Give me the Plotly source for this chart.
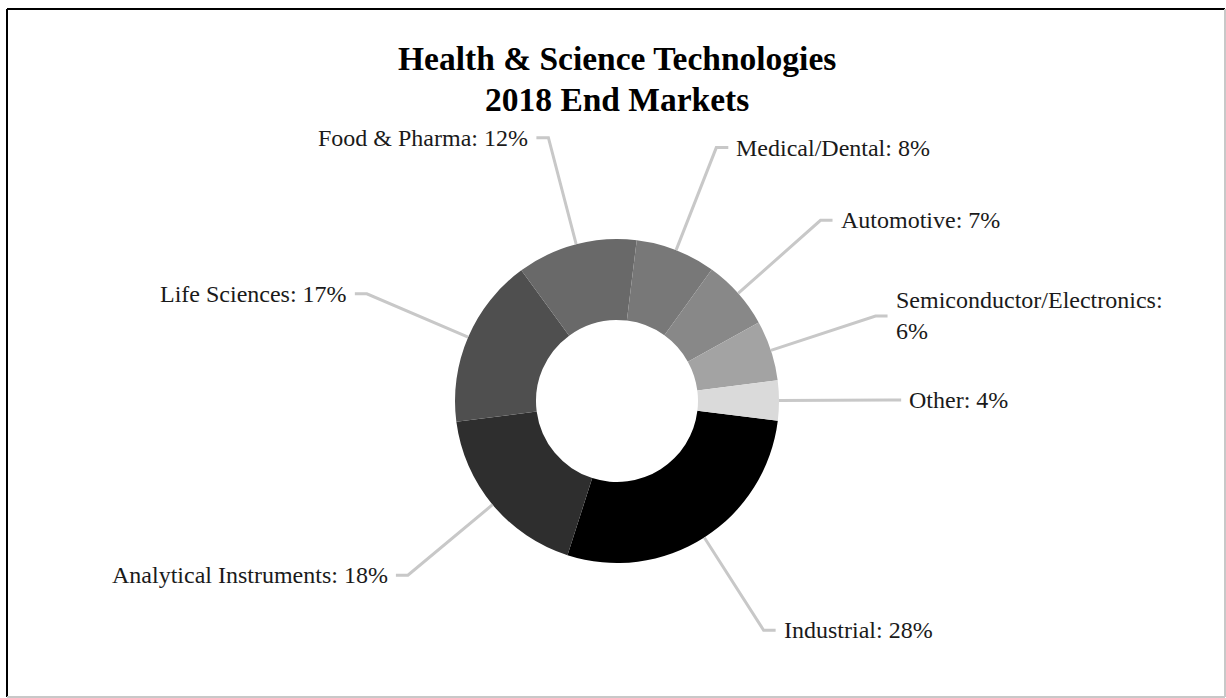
import math
import plotly.graph_objects as go

# ---- data ----
categories = ["Industrial", "Analytical Instruments", "Life Sciences", "Food & Pharma",
              "Medical/Dental", "Automotive", "Semiconductor/Electronics", "Other"]
shares = [28, 18, 17, 12, 8, 7, 6, 4]
title_lines = ["Health & Science Technologies", "2018 End Markets"]

# ---- styles ----
slice_colors = ["#000000", "#2e2e2e", "#4f4f4f", "#696969",
                "#787878", "#888888", "#a3a3a3", "#dadada"]
LINE_COLOR = "#c8c8c8"
TEXT_COLOR = "#1a1a1a"
FONT = "Liberation Serif, Times New Roman, serif"

W, H = 1226, 698
CX, CY, R = 617, 401, 162      # pie centre / radius in pixels
ROTATION = 97                  # degrees clockwise from 12 o'clock
ELBOW = 1.68                   # elbow radius as multiple of R
TAIL = 12                      # horizontal tail length px
GAP = 6                        # gap between tail and text px
TITLE_Y = [59, 99]             # title line centres px


def P(x, y):
    return x / W, 1 - y / H


fig = go.Figure(go.Pie(
    labels=categories, values=shares, sort=False, direction="clockwise",
    rotation=ROTATION, hole=0.5, textinfo="none", showlegend=False,
    marker=dict(colors=slice_colors, line=dict(width=0)),
    hoverinfo="label+percent",
    domain=dict(x=[(CX - R) / W, (CX + R) / W], y=[1 - (CY + R) / H, 1 - (CY - R) / H]),
))

shapes = []
annotations = []
total = sum(shares)
cum = 0
for cat, v in zip(categories, shares):
    mid = ROTATION + (cum + v / 2) / total * 360
    cum += v
    a = math.radians(mid)
    sx, sy = CX + R * math.sin(a), CY - R * math.cos(a)
    ex, ey = CX + ELBOW * R * math.sin(a), CY - ELBOW * R * math.cos(a)
    right = math.sin(a) >= 0
    tx = ex + (TAIL if right else -TAIL)
    p0, p1, p2 = P(sx, sy), P(ex, ey), P(tx, ey)
    shapes.append(dict(type="path", xref="paper", yref="paper",
                       path=f"M {p0[0]} {p0[1]} L {p1[0]} {p1[1]} L {p2[0]} {p2[1]}",
                       line=dict(color=LINE_COLOR, width=3)))
    sep = "<br>" if len(cat) > 22 else " "
    label = f"{cat}:{sep}{v}%"
    lx, ly = P(tx + (GAP if right else -GAP), ey)
    annotations.append(dict(x=lx, y=ly, xref="paper", yref="paper", text=label,
                            showarrow=False, xanchor="left" if right else "right",
                            yanchor="middle", align="left",
                            font=dict(family=FONT, size=24, color=TEXT_COLOR)))

for line, ty in zip(title_lines, TITLE_Y):
    ax, ay = P(CX, ty)
    annotations.append(dict(x=ax, y=ay, xref="paper", yref="paper",
                            text=f"<b>{line}</b>",
                            showarrow=False, xanchor="center", yanchor="middle",
                            font=dict(family=FONT, size=33.5, color="#000000")))

# outer frame
for (x0, y0, x1, y1, c) in [(7, 9, 7, 697, "#000000"), (7, 9, 1225, 9, "#000000"),
                            (1225, 9, 1225, 697, "#c8c8c8"), (7, 697, 1225, 697, "#c8c8c8")]:
    a0, b0 = P(x0, y0)
    a1, b1 = P(x1, y1)
    shapes.append(dict(type="line", xref="paper", yref="paper", x0=a0, y0=b0, x1=a1, y1=b1,
                       line=dict(color=c, width=2)))

fig.update_layout(width=W, height=H, margin=dict(l=0, r=0, t=0, b=0),
                  paper_bgcolor="white", plot_bgcolor="white",
                  shapes=shapes, annotations=annotations,
                  font=dict(family=FONT))

fig.write_html("out.html", config={"displayModeBar": False},
               post_script="document.body.style.margin='0px';")
